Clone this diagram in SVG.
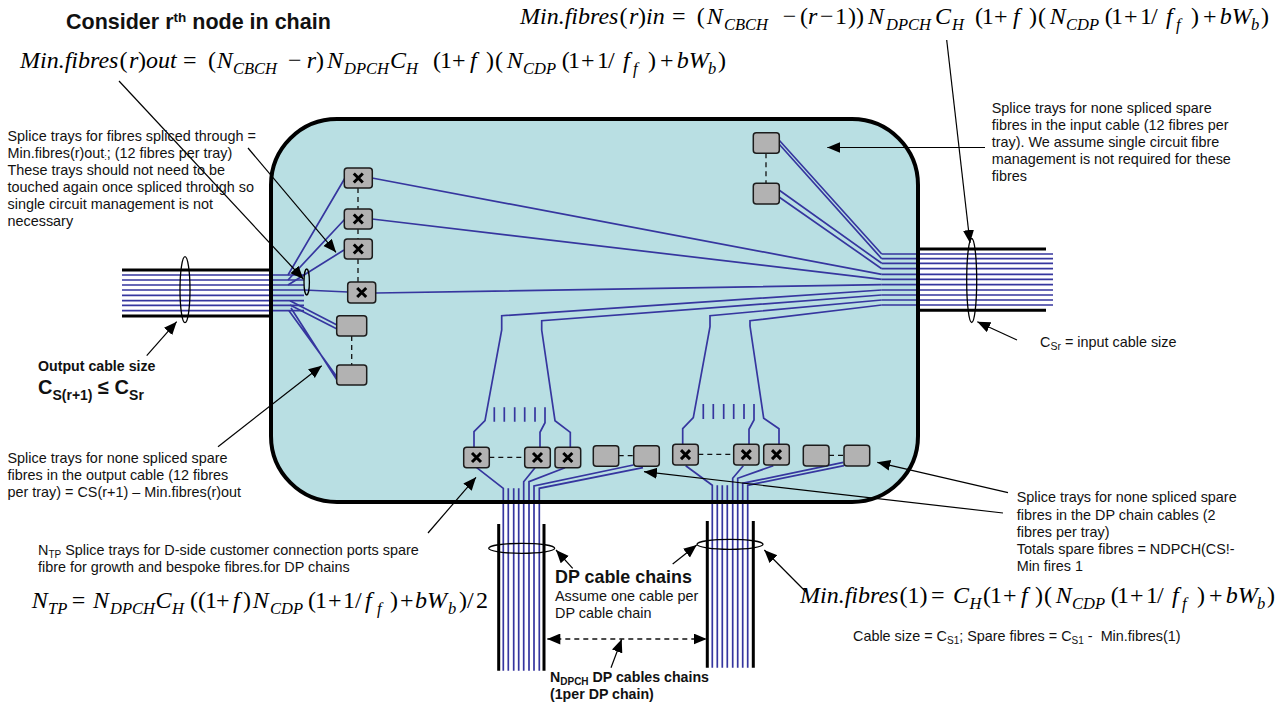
<svg xmlns="http://www.w3.org/2000/svg" width="1287" height="702" viewBox="0 0 1287 702">
<style>
text{font-family:"Liberation Sans",Arial,sans-serif;fill:#111;white-space:pre}
.t{font-size:14.4px}
.b{font-weight:bold}
.f{font-family:"Liberation Serif","Times New Roman",serif;font-size:24px;fill:#000}
.i{font-style:italic}
.s{font-style:italic;font-size:16.5px}
.fb{fill:none;stroke:#36369f;stroke-width:1.7}
.k{fill:none;stroke:#000;stroke-width:3}
.e{fill:none;stroke:#000;stroke-width:1.3}
.a{fill:none;stroke:#000;stroke-width:1.2;marker-end:url(#ah)}
.d{fill:none;stroke:#111;stroke-width:1.3;stroke-dasharray:5 4}
.tr{fill:#b2b2b2;stroke:#1c1c1c;stroke-width:1.5}
.x{fill:none;stroke:#000;stroke-width:3}
</style>
<defs>
<marker id="ah" markerUnits="userSpaceOnUse" markerWidth="14" markerHeight="12" refX="13" refY="5.5" orient="auto"><path d="M0 0L13 5.5L0 11z" fill="#000"/></marker>
<marker id="as" markerUnits="userSpaceOnUse" markerWidth="14" markerHeight="12" refX="0" refY="5.5" orient="auto"><path d="M13 0L0 5.5L13 11z" fill="#000"/></marker>
<g id="xm"><path class="x" d="M-4.5-4.5L4.5 4.5M-4.5 4.5L4.5-4.5"/></g>
</defs>
<rect id="enclosure-fill" x="271" y="119" width="647" height="383" rx="66" fill="#b9dfe3"/>
<g id="connectors">
<path class="fb" d="M122 275H304M122 280H304M122 285H304M122 290H304M122 295.3H304M122 300.7H304M122 305.3H304M122 310.7H304"/>
<path class="fb" d="M288 275L345 178M288 280L345 219M288 285L344 250M304 290L348 292M290 300.7L337 325M290 305L337 329M289 310.7L337 377M291 308L337 380"/>
<path class="fb" d="M881.7 254H1053M881.7 258.7H1053M881.7 263.3H1053M881.7 268.7H1053M881.7 274.3H1053M881.7 279.3H1053M881.7 284.7H1053M881.7 290H1053M881.7 295H1053M881.7 300H1053M881.7 305H1053"/>
<path class="fb" d="M779 140L881.7 254M779 144L881.7 258.7M779 190L881.7 263.3M779 197L881.7 268.7M372 178L881.7 274.3M372 219L881.7 279.3M376 293L881.7 284.7"/>
<path class="fb" d="M881.7 290L501.7 315.7V330L485 420.7L474 431.7V447"/>
<path class="fb" d="M881.7 295L541.7 320.7V330L555 420.7L570.3 432.3V447"/>
<path class="fb" d="M881.7 300L710 315.7V326.7L693.3 417.7L682.7 428.7V444.3"/>
<path class="fb" d="M881.7 305L750 320.7V326L763.7 418.3L779 428.7V444.3"/>
<path class="fb" d="M545 407.3V422.7L540 432.3V447M494.3 407.3V421.7M504.3 407.3V421.7M514.7 407.3V421.7M524.7 407.3V421.7M535 407.3V421.7"/>
<path class="fb" d="M754 404V420L749 429.3V444.3M703.3 404V419M713.3 404V419M723.7 404V419M733.7 404V419M744 404V419"/>
<path class="fb" d="M476.7 467.7L503.3 488.3V670.7M508.3 488.3V670.7M513.7 488.3V670.7M518.7 488.3V670.7M535 467.7L523.7 481.7V670.7M565 467.7L529 481.7V670.7M633.3 465L534 486V670.7M643 467.7L539.3 488.3V670.7"/>
<path class="fb" d="M685.7 465.7L712.3 485.3V667.7M717.3 485.3V667.7M722.3 485.3V667.7M727.3 485.3V667.7M743.3 465.7L732.7 478.3V667.7M773.3 465.7L737.7 478.3V667.7M843.3 462.3L742.7 483.3V667.7M844 465.7L747.7 485.3V667.7"/>
<path class="k" d="M122 270H270M122 316H270M918 249H1046M918 310.3H1046M498.7 524V670.7M544 524V670.7M707.3 521V667.7M753.3 521V667.7"/>
<path class="d" d="M358 188V209M358 229V239M358 259V282M351.7 336V365M766 153.3V183.3M489.3 457.3H524.7M618.7 455.7H633.7M698.3 454.3H733.7M829 455.3H844"/>
<ellipse class="e" cx="185" cy="289.7" rx="5" ry="33"/>
<ellipse class="e" cx="306.7" cy="282" rx="2.7" ry="13"/>
<ellipse class="e" cx="971.7" cy="280.5" rx="5" ry="42"/>
<ellipse class="e" cx="521.7" cy="548.3" rx="33" ry="5"/>
<ellipse class="e" cx="730" cy="544.3" rx="33" ry="5"/>
</g>
<rect id="enclosure" x="271" y="119" width="647" height="383" rx="66" fill="none" stroke="#000" stroke-width="4"/>
<g id="tray-l1"><rect class="tr" x="344.3" y="168" width="28" height="20" rx="3"/><use href="#xm" x="358.3" y="178"/></g>
<g id="tray-l2"><rect class="tr" x="344.3" y="209" width="28" height="20" rx="3"/><use href="#xm" x="358.3" y="219"/></g>
<g id="tray-l3"><rect class="tr" x="344.3" y="239" width="28" height="20" rx="3"/><use href="#xm" x="358.3" y="249"/></g>
<g id="tray-l4"><rect class="tr" x="347.7" y="282" width="28" height="21" rx="3"/><use href="#xm" x="361.7" y="292.5"/></g>
<g id="tray-l5"><rect class="tr" x="336.7" y="315.7" width="30" height="20.3" rx="3"/></g>
<g id="tray-l6"><rect class="tr" x="336.7" y="365" width="30" height="20" rx="3"/></g>
<g id="tray-r1"><rect class="tr" x="753.3" y="132.7" width="26" height="20.6" rx="3"/></g>
<g id="tray-r2"><rect class="tr" x="753.3" y="183.3" width="26" height="20.7" rx="3"/></g>
<g id="tray-a1"><rect class="tr" x="463.7" y="447.3" width="25.6" height="20.4" rx="3"/><use href="#xm" x="476.5" y="457.5"/></g>
<g id="tray-a2"><rect class="tr" x="524.7" y="447.3" width="25.6" height="20.4" rx="3"/><use href="#xm" x="537.5" y="457.5"/></g>
<g id="tray-a3"><rect class="tr" x="555" y="447.3" width="25.7" height="20.4" rx="3"/><use href="#xm" x="567.8" y="457.5"/></g>
<g id="tray-a4"><rect class="tr" x="593.3" y="445.7" width="25.4" height="20.6" rx="3"/></g>
<g id="tray-a5"><rect class="tr" x="633.7" y="445.7" width="25.6" height="20.6" rx="3"/></g>
<g id="tray-b1"><rect class="tr" x="672.7" y="444.3" width="25.6" height="20.7" rx="3"/><use href="#xm" x="685.5" y="454.6"/></g>
<g id="tray-b2"><rect class="tr" x="733.7" y="444.3" width="25.3" height="20.7" rx="3"/><use href="#xm" x="746.3" y="454.6"/></g>
<g id="tray-b3"><rect class="tr" x="763.7" y="444.3" width="25.6" height="20.7" rx="3"/><use href="#xm" x="776.5" y="454.6"/></g>
<g id="tray-b4"><rect class="tr" x="803.3" y="445.3" width="25.7" height="20.7" rx="3"/></g>
<g id="tray-b5"><rect class="tr" x="844" y="445.3" width="25.7" height="20.7" rx="3"/></g>
<g id="arrows">
<path class="a" d="M119 81L303.3 279"/>
<path class="a" d="M248 148L336 252.3"/>
<path class="a" d="M146.7 355.7L176.7 321.7"/>
<path class="a" d="M218 446.7L321.7 365.7"/>
<path class="a" d="M946.7 40L970 243"/>
<path class="a" d="M985 147.5H827.3"/>
<path class="a" d="M1017 340L977.3 321.7"/>
<path class="a" d="M428 533L476 477.3"/>
<path class="a" d="M1003 513L644 471.7"/>
<path class="a" d="M1008 492.7L877.3 462.3"/>
<path class="a" d="M572.7 568.3L556 550"/>
<path class="a" d="M672.7 564L696.7 545"/>
<path class="a" d="M806 592L764.3 550"/>
<path class="a" d="M611 667.7L621.7 639.3"/>
<path class="d a" style="marker-start:url(#as)" d="M547.3 639H706.7"/>
</g>
<g id="labels">
<text class="b" x="66" y="28.5" font-size="21.5">Consider r<tspan font-size="13.5" dy="-7">th</tspan><tspan dy="7"> node in chain</tspan></text>
<text class="f" y="68"><tspan class="i" x="20">Min.fibres</tspan><tspan x="119.5">(</tspan><tspan class="i" x="129">r</tspan><tspan x="138">)</tspan><tspan class="i" x="146">out</tspan><tspan x="183">=</tspan><tspan x="208">(</tspan><tspan class="i" x="216.7">N</tspan><tspan class="s" x="233" y="74">CBCH</tspan><tspan x="288" y="68">−</tspan><tspan class="i" x="306.7">r</tspan><tspan x="316">)</tspan><tspan class="i" x="327">N</tspan><tspan class="s" x="344" y="74">DPCH</tspan><tspan class="i" x="390" y="68">C</tspan><tspan class="s" x="406" y="74">H</tspan><tspan x="433" y="68">(</tspan><tspan x="440">1</tspan><tspan x="452">+</tspan><tspan class="i" x="470">f</tspan><tspan x="486">)</tspan><tspan x="495">(</tspan><tspan class="i" x="506.7">N</tspan><tspan class="s" x="523" y="74">CDP</tspan><tspan x="561.7" y="68">(</tspan><tspan x="568">1</tspan><tspan x="581">+</tspan><tspan x="597">1</tspan><tspan x="608">/</tspan><tspan class="i" x="623">f</tspan><tspan class="s" x="633" y="74">f</tspan><tspan x="648" y="68">)</tspan><tspan x="660">+</tspan><tspan class="i" x="676.7">bW</tspan><tspan class="s" x="708" y="74">b</tspan><tspan x="718" y="68">)</tspan></text>
<text class="f" y="24"><tspan class="i" x="520">Min.fibres</tspan><tspan x="619.5">(</tspan><tspan class="i" x="629">r</tspan><tspan x="638">)</tspan><tspan class="i" x="646">in</tspan><tspan x="672">=</tspan><tspan x="696.7">(</tspan><tspan class="i" x="706.7">N</tspan><tspan class="s" x="724" y="30">CBCH</tspan><tspan x="782.7" y="24">−</tspan><tspan x="800">(</tspan><tspan class="i" x="808">r</tspan><tspan x="820">−</tspan><tspan x="835">1</tspan><tspan x="848">))</tspan><tspan class="i" x="868">N</tspan><tspan class="s" x="886" y="30">DPCH</tspan><tspan class="i" x="935" y="24">C</tspan><tspan class="s" x="952" y="30">H</tspan><tspan x="975" y="24">(</tspan><tspan x="981.7">1</tspan><tspan x="994">+</tspan><tspan class="i" x="1013">f</tspan><tspan x="1029">)</tspan><tspan x="1038">(</tspan><tspan class="i" x="1049.7">N</tspan><tspan class="s" x="1066" y="30">CDP</tspan><tspan x="1104.7" y="24">(</tspan><tspan x="1111">1</tspan><tspan x="1124">+</tspan><tspan x="1140">1</tspan><tspan x="1151">/</tspan><tspan class="i" x="1166">f</tspan><tspan class="s" x="1176" y="30">f</tspan><tspan x="1191" y="24">)</tspan><tspan x="1203">+</tspan><tspan class="i" x="1219.7">bW</tspan><tspan class="s" x="1251" y="30">b</tspan><tspan x="1261" y="24">)</tspan></text>
<text class="f" y="608"><tspan class="i" x="31.7">N</tspan><tspan class="s" x="48" y="614">TP</tspan><tspan x="71.7" y="608">=</tspan><tspan class="i" x="93">N</tspan><tspan class="s" x="110" y="614">DPCH</tspan><tspan class="i" x="155.5" y="608">C</tspan><tspan class="s" x="172" y="614">H</tspan><tspan x="190" y="608">((</tspan><tspan x="205">1</tspan><tspan x="216">+</tspan><tspan class="i" x="233">f</tspan><tspan x="243">)</tspan><tspan class="i" x="252.7">N</tspan><tspan class="s" x="270" y="614">CDP</tspan><tspan x="308" y="608">(</tspan><tspan x="315">1</tspan><tspan x="328">+</tspan><tspan x="343">1</tspan><tspan x="355">/</tspan><tspan class="i" x="365">f</tspan><tspan class="s" x="377" y="614">f</tspan><tspan x="390" y="608">)</tspan><tspan x="400">+</tspan><tspan class="i" x="415">bW</tspan><tspan class="s" x="448" y="614">b</tspan><tspan x="459" y="608">)</tspan><tspan x="467">/</tspan><tspan x="476">2</tspan></text>
<text class="f" y="603"><tspan class="i" x="800">Min.fibres</tspan><tspan x="899.5">(</tspan><tspan x="907.5">1</tspan><tspan x="919.5">)</tspan><tspan x="931">=</tspan><tspan class="i" x="953">C</tspan><tspan class="s" x="969.5" y="609">H</tspan><tspan x="983" y="603">(</tspan><tspan x="990">1</tspan><tspan x="1003">+</tspan><tspan class="i" x="1021">f</tspan><tspan x="1035">)</tspan><tspan x="1044">(</tspan><tspan class="i" x="1055.7">N</tspan><tspan class="s" x="1072" y="609">CDP</tspan><tspan x="1110.7" y="603">(</tspan><tspan x="1117">1</tspan><tspan x="1130">+</tspan><tspan x="1146">1</tspan><tspan x="1157">/</tspan><tspan class="i" x="1172">f</tspan><tspan class="s" x="1182" y="609">f</tspan><tspan x="1197" y="603">)</tspan><tspan x="1209">+</tspan><tspan class="i" x="1225.7">bW</tspan><tspan class="s" x="1257" y="609">b</tspan><tspan x="1267" y="603">)</tspan></text>
<text class="t" x="7.5" y="140.7">Splice trays for fibres spliced through =</text>
<text class="t" x="7.5" y="158">Min.fibres(r)out<tspan font-size="9" dy="2">:</tspan><tspan dy="-2">; (12 fibres per tray)</tspan></text>
<text class="t" x="7.5" y="175">These trays should not need to be</text>
<text class="t" x="7.5" y="191.7">touched again once spliced through so</text>
<text class="t" x="7.5" y="208.5">single circuit management is not</text>
<text class="t" x="7.5" y="225.5">necessary</text>
<text class="t" x="991.7" y="113.3">Splice trays for none spliced spare</text>
<text class="t" x="991.7" y="130">fibres in the input cable (12 fibres per</text>
<text class="t" x="991.7" y="146.7">tray). We assume single circuit fibre</text>
<text class="t" x="991.7" y="164">management is not required for these</text>
<text class="t" x="991.7" y="180.7">fibres</text>
<text class="t" x="1040" y="347">C<tspan font-size="10.5" dy="3">Sr</tspan><tspan dy="-3"> = input cable size</tspan></text>
<text class="b" x="38" y="370.7" font-size="14.2">Output cable size</text>
<text class="b" x="38" y="394" font-size="20">C<tspan font-size="14" dy="6">S(r+1)</tspan><tspan dy="-6"> ≤ C</tspan><tspan font-size="14" dy="6">Sr</tspan></text>
<text class="t" x="7.5" y="462.7">Splice trays for none spliced spare</text>
<text class="t" x="7.5" y="480">fibres in the output cable (12 fibres</text>
<text class="t" x="7.5" y="497">per tray) = CS(r+1) – Min.fibres(r)out</text>
<text class="t" x="38" y="555">N<tspan font-size="10" dy="2.5">TP</tspan><tspan dy="-2.5"> Splice trays for D-side customer connection ports spare</tspan></text>
<text class="t" x="38" y="572">fibre for growth and bespoke fibres.for DP chains</text>
<text class="t" x="1016.7" y="502">Splice trays for none spliced spare</text>
<text class="t" x="1016.7" y="520">fibres in the DP chain cables (2</text>
<text class="t" x="1016.7" y="536.7">fibres per tray)</text>
<text class="t" x="1016.7" y="554">Totals spare fibres = NDPCH(CS!-</text>
<text class="t" x="1016.7" y="570.7">Min fires 1</text>
<text class="b" x="555" y="583" font-size="17.9">DP cable chains</text>
<text class="t" x="555" y="601">Assume one cable per</text>
<text class="t" x="555" y="618">DP cable chain</text>
<text class="b" x="550" y="682" font-size="14.2">N<tspan font-size="10" dy="3">DPCH</tspan><tspan dy="-3"> DP cables chains</tspan></text>
<text class="b" x="550" y="699" font-size="14.2">(1per DP chain)</text>
<text class="t" x="853" y="641">Cable size = C<tspan font-size="10" dy="2.5">S1</tspan><tspan dy="-2.5">; Spare fibres = C</tspan><tspan font-size="10" dy="2.5">S1</tspan><tspan dy="-2.5"> -  Min.fibres(1)</tspan></text>
</g>
</svg>
